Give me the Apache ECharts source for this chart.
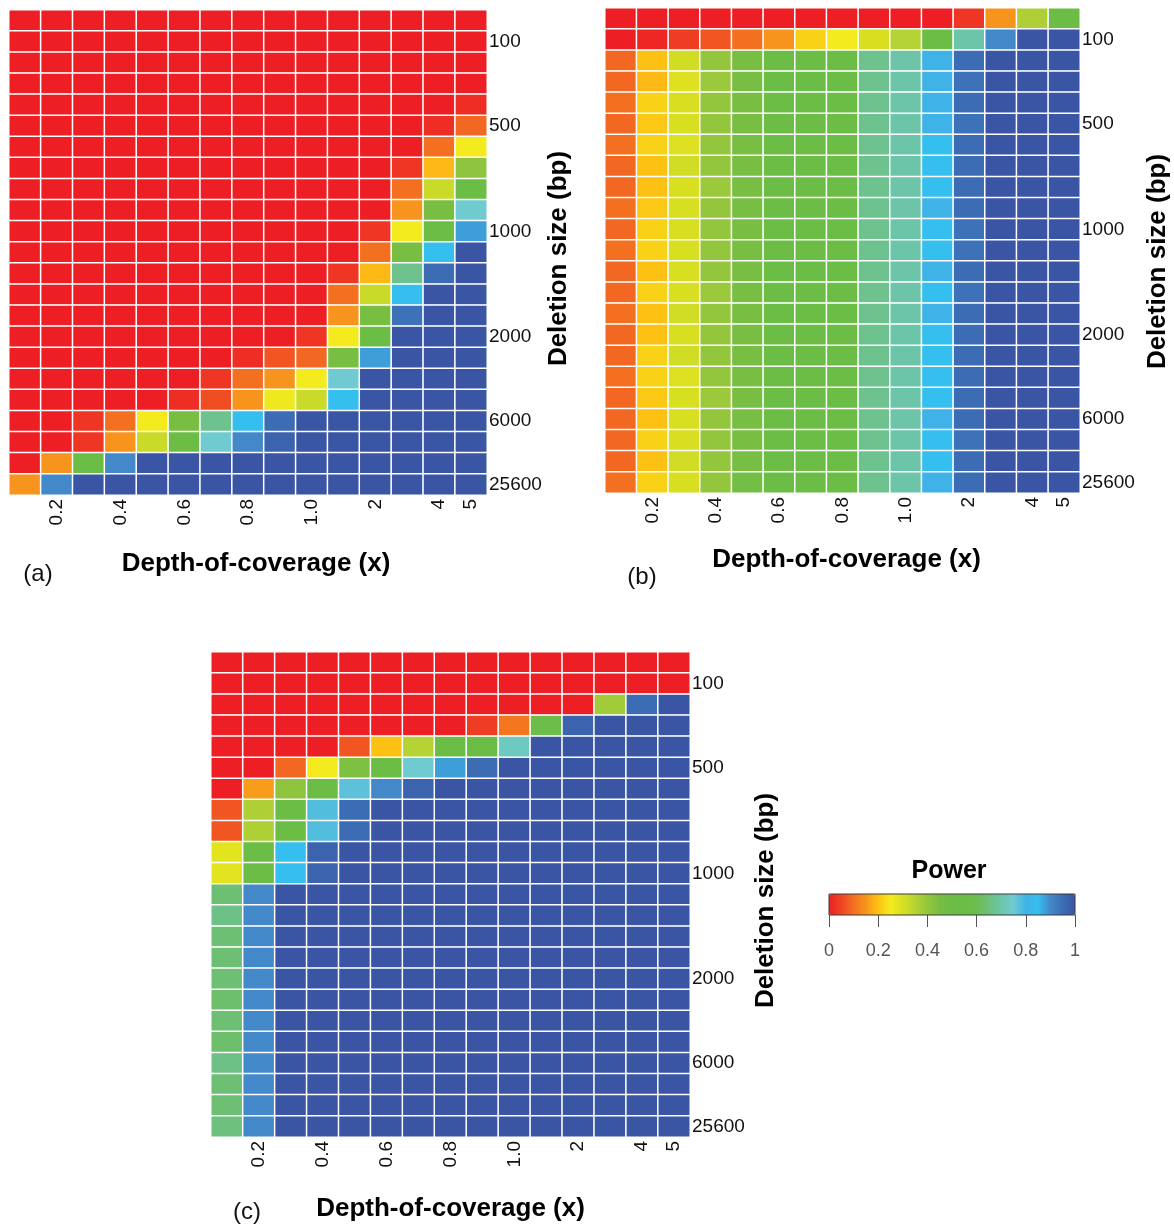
<!DOCTYPE html>
<html>
<head>
<meta charset="utf-8">
<title>Power heatmaps</title>
<script src="https://cdn.jsdelivr.net/npm/echarts@6/dist/echarts.min.js"></script>
<style>
  html, body { margin: 0; padding: 0; background: #fff; }
  #chart { width: 1174px; height: 1226px; }
</style>
</head>
<body>
<div id="chart"></div>
<script>
  // categories
  const depthLabels = ['0.1', '0.2', '0.3', '0.4', '0.5', '0.6', '0.7', '0.8', '0.9', '1.0', '1.5', '2', '3', '4', '5']
  const shownDepth = ['0.2', '0.4', '0.6', '0.8', '1.0', '2', '4', '5']
  const deletionSizes = ['50', '100', '200', '300', '400', '500', '600', '700', '800', '900', '1000', '1200',
    '1400', '1600', '1800', '2000', '3000', '4000', '5000', '6000', '10000', '15000', '25600']
  const shownSizes = ['100', '500', '1000', '2000', '6000', '25600']
  const legendTicks = [0, 0.2, 0.4, 0.6, 0.8, 1]

  // power values, one row per deletion size (top to bottom), one column per depth
  const powerA = [
    [0, 0, 0, 0, 0, 0, 0, 0, 0, 0, 0, 0, 0, 0, 0],
    [0, 0, 0, 0, 0, 0, 0, 0, 0, 0, 0, 0, 0, 0, 0],
    [0, 0, 0, 0, 0, 0, 0, 0, 0, 0, 0, 0, 0, 0, 0],
    [0, 0, 0, 0, 0, 0, 0, 0, 0, 0, 0, 0, 0, 0, 0],
    [0, 0, 0, 0, 0, 0, 0, 0, 0, 0, 0, 0, 0, 0, 0.02],
    [0, 0, 0, 0, 0, 0, 0, 0, 0, 0, 0, 0, 0, 0.02, 0.09],
    [0, 0, 0, 0, 0, 0, 0, 0, 0, 0, 0, 0, 0, 0.1, 0.25],
    [0, 0, 0, 0, 0, 0, 0, 0, 0, 0, 0, 0, 0.03, 0.19, 0.41],
    [0, 0, 0, 0, 0, 0, 0, 0, 0, 0, 0, 0, 0.1, 0.32, 0.52],
    [0, 0, 0, 0, 0, 0, 0, 0, 0, 0, 0, 0, 0.15, 0.45, 0.75],
    [0, 0, 0, 0, 0, 0, 0, 0, 0, 0, 0, 0.03, 0.25, 0.52, 0.88],
    [0, 0, 0, 0, 0, 0, 0, 0, 0, 0, 0, 0.1, 0.45, 0.85, 1],
    [0, 0, 0, 0, 0, 0, 0, 0, 0, 0, 0.03, 0.19, 0.67, 0.95, 1],
    [0, 0, 0, 0, 0, 0, 0, 0, 0, 0, 0.1, 0.32, 0.85, 1, 1],
    [0, 0, 0, 0, 0, 0, 0, 0, 0, 0, 0.15, 0.45, 0.94, 1, 1],
    [0, 0, 0, 0, 0, 0, 0, 0, 0, 0.03, 0.25, 0.52, 1, 1, 1],
    [0, 0, 0, 0, 0, 0, 0, 0.02, 0.07, 0.09, 0.45, 0.88, 1, 1, 1],
    [0, 0, 0, 0, 0, 0, 0.03, 0.1, 0.15, 0.25, 0.75, 1, 1, 1, 1],
    [0, 0, 0, 0, 0, 0.02, 0.06, 0.15, 0.26, 0.32, 0.85, 1, 1, 1, 1],
    [0, 0, 0.03, 0.1, 0.25, 0.45, 0.67, 0.85, 0.95, 1, 1, 1, 1, 1, 1],
    [0, 0, 0.03, 0.15, 0.32, 0.5, 0.75, 0.9, 0.97, 1, 1, 1, 1, 1, 1],
    [0, 0.15, 0.52, 0.9, 1, 1, 1, 1, 1, 1, 1, 1, 1, 1, 1],
    [0.15, 0.9, 1, 1, 1, 1, 1, 1, 1, 1, 1, 1, 1, 1, 1],
  ]

  const powerB = [
    [0, 0, 0, 0, 0, 0, 0, 0, 0, 0, 0, 0.03, 0.15, 0.36, 0.52],
    [0, 0.01, 0.04, 0.07, 0.1, 0.15, 0.22, 0.25, 0.3, 0.35, 0.52, 0.7, 0.9, 1, 1],
    [0.09, 0.2, 0.31, 0.4, 0.45, 0.52, 0.52, 0.53, 0.67, 0.7, 0.8, 0.95, 1, 1, 1],
    [0.09, 0.19, 0.29, 0.39, 0.45, 0.52, 0.52, 0.53, 0.67, 0.7, 0.8, 0.94, 1, 1, 1],
    [0.1, 0.22, 0.3, 0.4, 0.45, 0.52, 0.52, 0.53, 0.67, 0.7, 0.8, 0.95, 1, 1, 1],
    [0.09, 0.21, 0.3, 0.4, 0.45, 0.52, 0.52, 0.52, 0.67, 0.7, 0.8, 0.94, 1, 1, 1],
    [0.1, 0.22, 0.29, 0.4, 0.45, 0.52, 0.52, 0.53, 0.67, 0.7, 0.85, 0.95, 1, 1, 1],
    [0.09, 0.2, 0.31, 0.4, 0.45, 0.52, 0.52, 0.53, 0.67, 0.7, 0.85, 0.95, 1, 1, 1],
    [0.09, 0.2, 0.3, 0.39, 0.45, 0.52, 0.52, 0.53, 0.67, 0.7, 0.85, 0.95, 1, 1, 1],
    [0.1, 0.21, 0.3, 0.4, 0.45, 0.52, 0.52, 0.53, 0.67, 0.7, 0.8, 0.95, 1, 1, 1],
    [0.09, 0.22, 0.3, 0.4, 0.45, 0.52, 0.52, 0.53, 0.67, 0.7, 0.85, 0.94, 1, 1, 1],
    [0.1, 0.22, 0.3, 0.4, 0.45, 0.52, 0.52, 0.53, 0.67, 0.7, 0.85, 0.94, 1, 1, 1],
    [0.09, 0.2, 0.3, 0.4, 0.45, 0.52, 0.52, 0.53, 0.67, 0.7, 0.8, 0.95, 1, 1, 1],
    [0.09, 0.22, 0.3, 0.39, 0.45, 0.52, 0.52, 0.53, 0.67, 0.7, 0.85, 0.94, 1, 1, 1],
    [0.1, 0.2, 0.31, 0.4, 0.45, 0.52, 0.52, 0.53, 0.67, 0.7, 0.8, 0.95, 1, 1, 1],
    [0.09, 0.2, 0.3, 0.4, 0.45, 0.52, 0.52, 0.53, 0.67, 0.7, 0.85, 0.95, 1, 1, 1],
    [0.09, 0.22, 0.31, 0.4, 0.45, 0.52, 0.52, 0.53, 0.67, 0.7, 0.85, 0.95, 1, 1, 1],
    [0.1, 0.22, 0.29, 0.4, 0.45, 0.52, 0.52, 0.53, 0.67, 0.7, 0.85, 0.95, 1, 1, 1],
    [0.09, 0.21, 0.3, 0.39, 0.45, 0.52, 0.52, 0.53, 0.67, 0.7, 0.85, 0.95, 1, 1, 1],
    [0.09, 0.2, 0.3, 0.4, 0.45, 0.52, 0.52, 0.53, 0.67, 0.7, 0.8, 0.95, 1, 1, 1],
    [0.09, 0.22, 0.3, 0.4, 0.45, 0.52, 0.52, 0.53, 0.67, 0.7, 0.85, 0.94, 1, 1, 1],
    [0.09, 0.2, 0.31, 0.4, 0.45, 0.52, 0.52, 0.53, 0.67, 0.7, 0.85, 0.95, 1, 1, 1],
    [0.1, 0.22, 0.3, 0.4, 0.47, 0.52, 0.52, 0.53, 0.67, 0.7, 0.8, 0.95, 1, 1, 1],
  ]

  const powerC = [
    [0, 0, 0, 0, 0, 0, 0, 0, 0, 0, 0, 0, 0, 0, 0],
    [0, 0, 0, 0, 0, 0, 0, 0, 0, 0, 0, 0, 0, 0, 0],
    [0, 0, 0, 0, 0, 0, 0, 0, 0, 0, 0, 0, 0.38, 0.95, 1],
    [0, 0, 0, 0, 0, 0, 0, 0, 0.04, 0.11, 0.57, 0.97, 1, 1, 1],
    [0, 0, 0, 0, 0.07, 0.2, 0.35, 0.52, 0.52, 0.73, 1, 1, 1, 1, 1],
    [0, 0, 0.09, 0.25, 0.44, 0.52, 0.75, 0.88, 0.95, 1, 1, 1, 1, 1, 1],
    [0, 0.16, 0.41, 0.52, 0.77, 0.9, 0.97, 1, 1, 1, 1, 1, 1, 1, 1],
    [0.07, 0.36, 0.52, 0.78, 0.95, 1, 1, 1, 1, 1, 1, 1, 1, 1, 1],
    [0.07, 0.36, 0.52, 0.78, 0.95, 1, 1, 1, 1, 1, 1, 1, 1, 1, 1],
    [0.28, 0.52, 0.85, 0.97, 1, 1, 1, 1, 1, 1, 1, 1, 1, 1, 1],
    [0.28, 0.52, 0.85, 0.97, 1, 1, 1, 1, 1, 1, 1, 1, 1, 1, 1],
    [0.64, 0.9, 1, 1, 1, 1, 1, 1, 1, 1, 1, 1, 1, 1, 1],
    [0.66, 0.9, 1, 1, 1, 1, 1, 1, 1, 1, 1, 1, 1, 1, 1],
    [0.64, 0.9, 1, 1, 1, 1, 1, 1, 1, 1, 1, 1, 1, 1, 1],
    [0.64, 0.9, 1, 1, 1, 1, 1, 1, 1, 1, 1, 1, 1, 1, 1],
    [0.64, 0.9, 1, 1, 1, 1, 1, 1, 1, 1, 1, 1, 1, 1, 1],
    [0.63, 0.9, 1, 1, 1, 1, 1, 1, 1, 1, 1, 1, 1, 1, 1],
    [0.64, 0.9, 1, 1, 1, 1, 1, 1, 1, 1, 1, 1, 1, 1, 1],
    [0.63, 0.9, 1, 1, 1, 1, 1, 1, 1, 1, 1, 1, 1, 1, 1],
    [0.66, 0.9, 1, 1, 1, 1, 1, 1, 1, 1, 1, 1, 1, 1, 1],
    [0.64, 0.9, 1, 1, 1, 1, 1, 1, 1, 1, 1, 1, 1, 1, 1],
    [0.64, 0.9, 1, 1, 1, 1, 1, 1, 1, 1, 1, 1, 1, 1, 1],
    [0.65, 0.9, 1, 1, 1, 1, 1, 1, 1, 1, 1, 1, 1, 1, 1],
  ]

  // colour ramp 0 -> 1 (evenly spaced stops)
  const powerColors = ['#ED1F24', '#F04423', '#F37021', '#F7941D', '#FDC113', '#F4EB1F', '#D8DF21',
    '#B5D334', '#94C63D', '#77BE43', '#6CBD45', '#6CBD45', '#6CBD50', '#6DC07D', '#6CC5A8',
    '#70CBD0', '#3FB3E7', '#35BFEF', '#4388C9', '#3C6DB4', '#3A55A4']

  const FONT = '"Liberation Sans", Arial, Helvetica, sans-serif'

  const panels = [
    { tag: '(a)', data: powerA, left: 9, top: 10, width: 478, height: 485, xGap: 56, xShift: 16, yGap: 52, yShift: 12, tagX: 38, tagY: 574 },
    { tag: '(b)', data: powerB, left: 605, top: 8, width: 475, height: 485, xGap: 54, xShift: 8, yGap: 65, yShift: 22, tagX: 642, tagY: 577 },
    { tag: '(c)', data: powerC, left: 211, top: 652, width: 479, height: 485, xGap: 59, xShift: 0, yGap: 63, yShift: 12, tagX: 247, tagY: 1212 },
  ]

  function toCells(matrix) {
    const cells = []
    matrix.forEach((row, r) => {
      row.forEach((v, c) => {
        cells.push([c, r, v])
      })
    })
    return cells
  }

  const grids = panels.map((p) => ({
    left: p.left,
    top: p.top,
    width: p.width,
    height: p.height,
    outerBoundsMode: 'none',
  }))
  // grid that carries the colour-bar ticks
  grids.push({ left: 829, top: 894, width: 246, height: 21, show: true, borderColor: '#3a3a3a', borderWidth: 1, backgroundColor: 'transparent', z: 10, outerBoundsMode: 'none' })

  const xAxes = panels.map((p, i) => ({
    type: 'category',
    gridIndex: i,
    data: depthLabels,
    position: 'bottom',
    axisLine: { show: false },
    axisTick: { show: false },
    splitLine: { show: false },
    axisLabel: {
      interval: 0,
      rotate: 90,
      margin: 4,
      fontSize: 19,
      fontFamily: FONT,
      color: '#111',
      formatter: (v) => (shownDepth.includes(v) ? v : ''),
    },
    name: 'Depth-of-coverage (x)',
    nameLocation: 'middle',
    nameGap: p.xGap,
    nameTextStyle: { fontSize: 26, fontWeight: 'bold', fontFamily: FONT, color: '#000', padding: [0, 0, 0, p.xShift] },
  }))
  xAxes.push({
    type: 'value',
    gridIndex: 3,
    min: 0,
    max: 1,
    interval: 0.2,
    axisLine: { show: false },
    axisTick: { show: true, length: 12, lineStyle: { color: '#555', width: 1 } },
    splitLine: { show: false },
    axisLabel: {
      margin: 27,
      fontSize: 18,
      fontFamily: FONT,
      color: '#555',
      formatter: (v) => {
        const t = legendTicks.find((k) => Math.abs(k - v) < 1e-6)
        return t === 0 || t === 1 ? String(t) : t.toFixed(1)
      },
    },
  })

  const yAxes = panels.map((p, i) => ({
    type: 'category',
    gridIndex: i,
    data: deletionSizes,
    inverse: true,
    position: 'right',
    axisLine: { show: false },
    axisTick: { show: false },
    splitLine: { show: false },
    axisLabel: {
      interval: 0,
      margin: 2,
      fontSize: 19,
      fontFamily: FONT,
      color: '#111',
      formatter: (v) => (shownSizes.includes(v) ? v : ''),
    },
    name: 'Deletion size (bp)',
    nameLocation: 'middle',
    nameGap: p.yGap,
    nameTextStyle: { fontSize: 26, fontWeight: 'bold', fontFamily: FONT, color: '#000', padding: [0, p.yShift, 0, 0] },
  }))
  yAxes.push({ type: 'value', gridIndex: 3, show: false, min: 0, max: 1 })

  const series = panels.map((p, i) => ({
    type: 'heatmap',
    xAxisIndex: i,
    yAxisIndex: i,
    data: toCells(p.data),
    itemStyle: { borderColor: '#fff', borderWidth: 1.5 },
    emphasis: { disabled: true },
  }))

  const texts = panels.map((p) => ({
    type: 'text',
    x: p.tagX,
    y: p.tagY,
    style: { text: p.tag, font: '24px ' + FONT, fill: '#111', align: 'center', verticalAlign: 'middle' },
  }))
  texts.push({
    type: 'text',
    x: 949,
    y: 871,
    style: { text: 'Power', font: 'bold 25px ' + FONT, fill: '#000', align: 'center', verticalAlign: 'middle' },
  })

  const option = {
    backgroundColor: '#fff',
    animation: false,
    grid: grids,
    xAxis: xAxes,
    yAxis: yAxes,
    visualMap: {
      type: 'continuous',
      min: 0,
      max: 1,
      seriesIndex: [0, 1, 2],
      dimension: 2,
      calculable: false,
      hoverLink: false,
      orient: 'horizontal',
      left: 829,
      top: 894,
      padding: 0,
      itemWidth: 21,
      itemHeight: 246,
      inRange: { color: powerColors },
    },
    graphic: texts,
    series: series,
  }

  const chart = echarts.init(document.getElementById('chart'), null, { renderer: 'canvas' })
  chart.setOption(option)
</script>
</body>
</html>
